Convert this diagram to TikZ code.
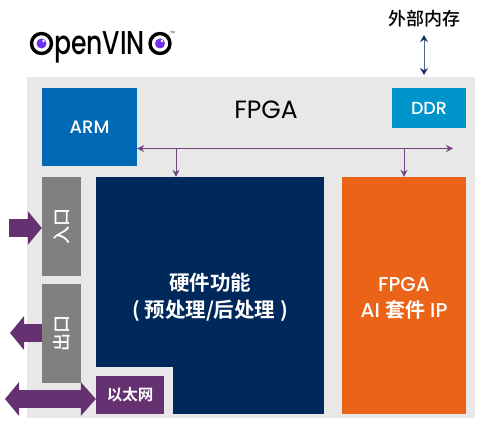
\documentclass[tikz,border=0pt]{standalone}
\usepackage{fontspec}
\setmainfont{Poppins}
\newfontfamily\cjk{Noto Sans CJK SC Medium}
\newfontfamily\cjkbold{Noto Sans CJK SC Bold}
\newfontfamily\latinmed{Poppins Medium}
\usetikzlibrary{arrows.meta,calc,positioning}
\definecolor{panel}{RGB}{232,232,232}
\definecolor{armblue}{RGB}{0,104,181}
\definecolor{ddrblue}{RGB}{0,149,202}
\definecolor{navy}{RGB}{0,40,90}
\definecolor{fpgaorange}{RGB}{235,99,23}
\definecolor{portgray}{RGB}{128,128,128}
\definecolor{plum}{RGB}{101,49,113}
\definecolor{eyepurple}{RGB}{112,48,235}
\definecolor{memnavy}{RGB}{30,50,105}
\tikzset{
  >=Stealth,
  block/.style={inner sep=0pt,align=center,text=white,font=\latinmed\fontsize{18}{26}\selectfont},
  bus/.style={plum!90!white,line width=1pt,{Stealth[length=7pt,width=7pt]}-{Stealth[length=7pt,width=7pt]}},
  drop/.style={plum!90!white,line width=1pt,-{Stealth[length=7pt,width=7pt]}},
  fatarrow/.style={plum,line width=18pt,-{Triangle[length=14pt,width=33pt]}},
  logoeye/.style={draw=black,line width=3.4pt,fill=white,circle,minimum size=20pt,inner sep=0pt},
}

\begin{document}
\begin{tikzpicture}[x=1pt,y=-1pt]
  \useasboundingbox (0,0) rectangle (484,428);

  % Board
  \fill[panel] (27,77) rectangle (475,418);
  \node[font=\fontsize{25}{28}\selectfont] (fpga) at (266,110) {FPGA};

  % Logo
  \node[logoeye] (eyeleft) at (41.5,43.5) {};
  \fill[eyepurple] (eyeleft) circle (5pt);
  \fill[white] (43.5,41) circle (1.3pt);
  \node[font=\latinmed\fontsize{33}{33}\selectfont,xscale=0.76,anchor=base west,inner sep=0pt] (logotext) at (54,55) {penVIN};
  \node[logoeye] (eyeright) at (160,43.5) {};
  \fill[eyepurple] (eyeright) circle (5pt);
  \fill[white] (162,41) circle (1.3pt);
  \node[font=\fontsize{3}{3}\selectfont,inner sep=0pt] (logotm) at (172.5,32.5) {TM};

  % Blocks
  \node[block,fill=armblue,minimum width=95pt,minimum height=78pt] (arm) at (89.5,127) {ARM};
  \node[block,fill=ddrblue,minimum width=74pt,minimum height=40pt,font=\latinmed\fontsize{17.5}{20}\selectfont] (ddr) at (429,108) {DDR};
  \node[block,fill=navy,minimum width=228pt,minimum height=237pt] (hw) at (210,295.5) {};
  \node[block,font=\fontsize{20.5}{27}\selectfont\cjkbold] (hwlabel) at (210,297.5)
    {硬件功能\\( 预处理/后处理 )};
  \fill[panel] (96,367) rectangle (173,414.5);
  \node[block,fill=fpgaorange,minimum width=124pt,minimum height=237pt] (aiip) at (404,295.5) {};
  \node[block,font=\latinmed\fontsize{20}{26}\selectfont] (aiiplabel) at (404,298.5)
    {FPGA\\AI {\cjkbold 套件} IP};

  % Ports
  \node[block,fill=portgray,minimum width=39pt,minimum height=99pt] (inport) at (61.5,226.5) {};
  \node[block,rotate=90,font=\fontsize{18}{20}\selectfont\cjk] (inlabel) at (inport) {入口};
  \node[block,fill=portgray,minimum width=39pt,minimum height=99pt] (outport) at (61.5,333.5) {};
  \node[block,rotate=90,font=\fontsize{18}{20}\selectfont\cjk] (outlabel) at (outport) {出口};
  \node[block,fill=plum,minimum width=68pt,minimum height=38pt,font=\fontsize{15.5}{18}\selectfont\cjkbold] (eth) at (130,395)
    {以太网};

  % Bus
  \coordinate (busleft) at (arm.east|-0,148.5);
  \coordinate (busright) at (453,148.5);
  \coordinate (bushw) at (176,148.5);
  \coordinate (busip) at (404,148.5);
  \draw[bus] (busleft) -- (busright);
  \draw[drop] (bushw) -- (bushw|-hw.north);
  \draw[drop] (busip) -- (aiip.north);

  % External memory
  \node[font=\fontsize{18}{20}\selectfont\cjk,inner sep=0pt] (extmem) at (424,19) {外部内存};
  \coordinate (memtop) at (424,35);
  \coordinate (membot) at (424,75);
  \draw[memnavy!75!white,line width=1pt,{Stealth[length=7pt,width=8pt,color=memnavy]}-{Stealth[length=7pt,width=8pt,color=memnavy]}] (memtop) -- (membot);

  % Fat arrows
  \coordinate (infree) at (9,228);
  \coordinate (outfree) at (10,333);
  \coordinate (ethfree) at (5,399);
  \draw[fatarrow] (infree) -- (inport.west|-infree);
  \draw[fatarrow] (outport.west|-outfree) -- (outfree);
  \draw[fatarrow,{Triangle[length=14pt,width=33pt]}-{Triangle[length=15pt,width=33pt]}] (ethfree) -- (eth.west|-ethfree);
\end{tikzpicture}
\end{document}
